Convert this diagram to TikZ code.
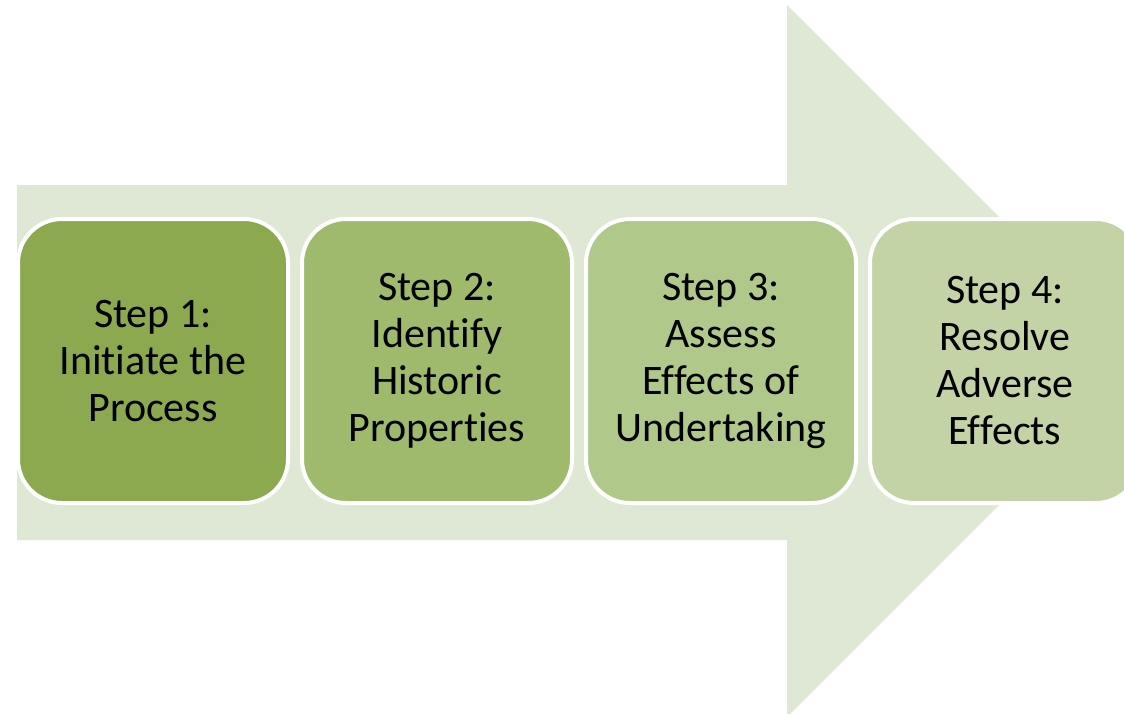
\documentclass[tikz,border=0pt]{standalone}
\usepackage{fontspec}
\setmainfont{Carlito}[Ligatures=NoCommon]
\usetikzlibrary{positioning}

\definecolor{arrowbg}{HTML}{DFE8D4}
\definecolor{stepa}{HTML}{8DA94F}
\definecolor{stepb}{HTML}{9FBA6C}
\definecolor{stepc}{HTML}{B1C88B}
\definecolor{stepd}{HTML}{C3D3A6}

\begin{document}
\begin{tikzpicture}[x=1pt,y=-1pt,node distance=12pt,
  stepbox/.style={draw=white,line width=4pt,rounded corners=44pt,outer sep=0pt,
    minimum width=270pt,minimum height=284pt,align=center,
    font=\fontsize{42}{47}\selectfont}]
\useasboundingbox (0,0) rectangle (1124,713);
\clip (0,0) rectangle (1124,713);
% big arrow behind the steps
\fill[arrowbg] (17,185) -- (787,185) -- (787,5) -- (1143,361)
  -- (787,717) -- (787,540) -- (17,540) -- cycle;
\node[stepbox, fill=stepa] (s1) at (153,361) {Step 1:\\Initiate the\\Process};
\node[stepbox, fill=stepb, right=14pt of s1] (s2) {Step 2:\\Identify\\Historic\\Properties};
\node[stepbox, fill=stepc, right=14pt of s2] (s3) {Step 3:\\Assess\\Effects of\\Undertaking};
\node[stepbox, fill=stepd, right=14pt of s3] (s4) {Step 4:\\Resolve\\Adverse\\Effects};
\end{tikzpicture}
\end{document}
